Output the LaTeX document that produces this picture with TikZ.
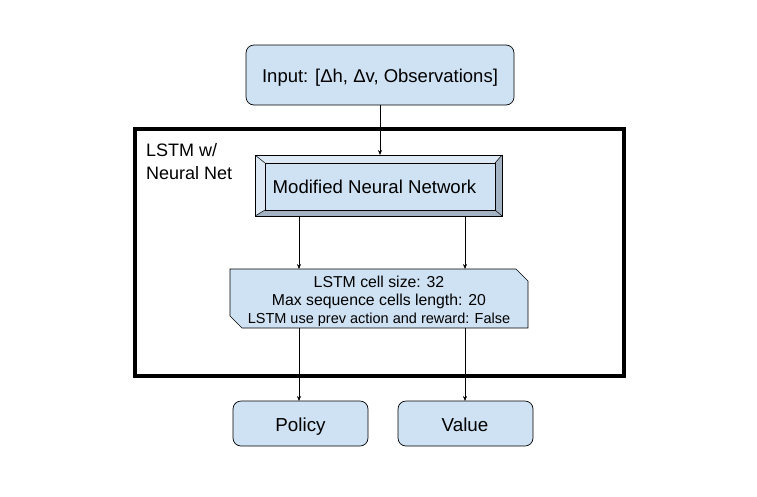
\documentclass[tikz,border=0pt]{standalone}
\usepackage{fontspec}
\setmainfont{Liberation Sans}
\usetikzlibrary{arrows.meta,calc}
\definecolor{boxfill}{HTML}{CFE2F3}
\definecolor{bevdark}{HTML}{A3B3C3}
\definecolor{bevlight}{HTML}{DDEAF6}
\tikzset{
  rbox/.style={draw=black, line width=0.7pt, fill=boxfill, rounded corners=8pt},
  conn/.style={line width=0.6pt, -{Stealth[length=5pt,width=4pt]}},
  txt/.style={inner sep=0pt, anchor=base},
}
\begin{document}
\begin{tikzpicture}[x=1pt,y=-1pt]
\useasboundingbox (0,0) rectangle (757,496);
% Input
\draw[rbox] (246,45) rectangle (514,105);
\node[txt, font=\fontsize{18.5}{22}\selectfont] (in) at (380,82) {Input: [Δh, Δv, Observations]};
\coordinate (inb) at (380,105);
% Big LSTM frame
\draw[line width=3.5pt] (135,129) rectangle (624,376);
\node[anchor=north west, align=left, inner sep=0pt, font=\fontsize{18}{23}\selectfont] (lab) at (146,143) {LSTM w/\\Neural Net};
% Modified NN beveled box
\fill[bevlight] (255,155) -- (502,155) -- (495,163) -- (265,163) -- cycle;
\fill[bevlight] (255,155) -- (265,163) -- (265,210) -- (255,216) -- cycle;
\fill[bevdark] (502,155) -- (502,216) -- (495,210) -- (495,163) -- cycle;
\fill[bevdark] (255,216) -- (502,216) -- (495,210) -- (265,210) -- cycle;
\draw[fill=boxfill, line width=0.6pt] (265,163) rectangle (495,210);
\draw[line width=0.6pt] (255,155) rectangle (502,216);
\draw[line width=0.5pt] (255,155) -- (265,163) (502,155) -- (495,163) (255,216) -- (265,210) (502,216) -- (495,210);
\node[txt, font=\fontsize{18.6}{22}\selectfont] (nn) at (374.5,193) {Modified Neural Network};
\coordinate (nnt) at (380,155);
\coordinate (nnl) at (299,216);
\coordinate (nnr) at (465,216);
% LSTM cell
\draw[fill=boxfill, line width=0.7pt] (230,269) -- (516,269) -- (528,281) -- (528,328) -- (242,328) -- (230,316) -- cycle;
\node[txt, font=\fontsize{15.8}{18}\selectfont] (c1) at (379,287) {LSTM cell size: 32};
\node[txt, font=\fontsize{15.8}{18}\selectfont] (c2) at (379,305.5) {Max sequence cells length: 20};
\node[txt, font=\fontsize{14.5}{18}\selectfont] (c3) at (379,323.5) {LSTM use prev action and reward: False};
\coordinate (cl) at (299,269);
\coordinate (cr) at (465,269);
\coordinate (cbl) at (299,328);
\coordinate (cbr) at (465,328);
% Outputs
\draw[rbox] (233,401) rectangle (368,446);
\node[txt, font=\fontsize{18.8}{24}\selectfont] (pol) at (300.5,431) {Policy};
\draw[rbox] (398,401) rectangle (533,446);
\node[txt, font=\fontsize{18.8}{24}\selectfont] (val) at (465,431) {Value};
\coordinate (polt) at (299,401);
\coordinate (valt) at (465,401);
% connectors
\draw[conn] (inb) -- (nnt);
\draw[conn] (nnl) -- (cl);
\draw[conn] (nnr) -- (cr);
\draw[conn] (cbl) -- (polt);
\draw[conn] (cbr) -- (valt);
\end{tikzpicture}
\end{document}
